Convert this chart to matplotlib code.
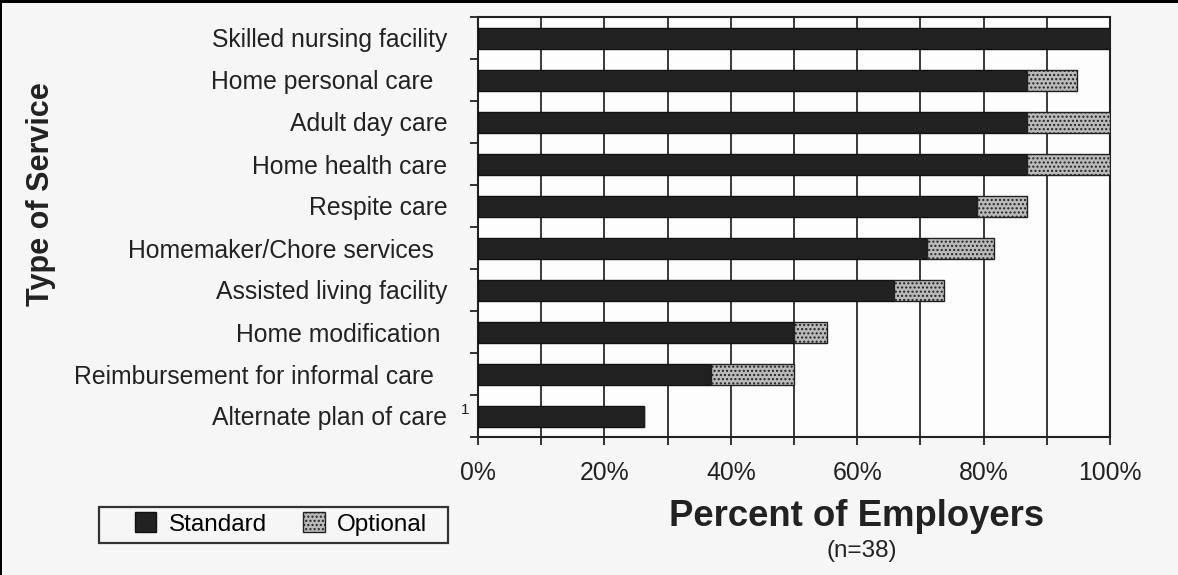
import matplotlib
matplotlib.use("Agg")
import matplotlib.pyplot as plt
from matplotlib.patches import Rectangle, Patch
from matplotlib.ticker import MultipleLocator, FuncFormatter, FixedLocator
import numpy as np

plt.rcParams['font.family'] = ['Liberation Sans', 'DejaVu Sans']
plt.rcParams['hatch.color'] = '#9a9a9a'

services = [
    "Skilled nursing facility",
    "Home personal care  ",
    "Adult day care",
    "Home health care",
    "Respite care",
    "Homemaker/Chore services  ",
    "Assisted living facility",
    "Home modification ",
    "Reimbursement for informal care  ",
    "Alternate plan of care",
]
standard = [100.0, 86.8, 86.8, 86.8, 78.9, 71.1, 65.8, 50.0, 36.8, 26.3]
optional = [0.0, 7.9, 13.2, 13.2, 7.9, 10.5, 7.9, 5.3, 13.2, 0.0]
xticks = [0, 20, 40, 60, 80, 100]

W, H = 1178, 575
fig = plt.figure(figsize=(W / 100, H / 100), dpi=100, facecolor='#f6f6f6')
ax = fig.add_axes([478 / W, 1 - 437 / H, (1110 - 478) / W, (437 - 17) / H])
ax.set_facecolor('#fdfdfd')

y = np.arange(len(services))
dark = '#222222'
gray = '#bababa'
ax.barh(y, standard, height=0.5, color=dark, edgecolor='#111111', linewidth=1, zorder=3)
ax.barh(y, optional, left=standard, height=0.5, color=gray, edgecolor='#222222',
        linewidth=1, zorder=3, hatch='....')

ax.set_xlim(0, 100)
ax.set_ylim(len(services) - 0.5, -0.5)

# grid every 10%
ax.xaxis.set_major_locator(FixedLocator(xticks))
ax.xaxis.set_minor_locator(MultipleLocator(10))
ax.xaxis.set_major_formatter(FuncFormatter(lambda v, p: f"{int(v)}%"))
ax.grid(True, which='both', axis='x', color='#2a2a2a', linewidth=1.3, zorder=1)
ax.tick_params(axis='x', which='both', direction='out', length=6, width=1.3,
               color='#222222', labelsize=17.8, pad=11, labelcolor='#222222')

ax.set_yticks(y)
ax.set_yticklabels(services)
ax.yaxis.set_minor_locator(FixedLocator(np.arange(-0.5, len(services), 1.0)))
ax.tick_params(axis='y', which='major', length=0, pad=22, labelsize=17.8, labelcolor='#222222')
ax.tick_params(axis='y', which='minor', direction='out', length=6, width=1.3, color='#222222')

for s in ax.spines.values():
    s.set_color('#222222')
    s.set_linewidth(1.5)

# footnote marker
ax.text(-0.02, 9 - 0.15, "1", transform=ax.get_yaxis_transform(), ha='center', va='center',
        fontsize=11, color='#222222')

fig.text(41 / W, 1 - 194 / H, "Type of Service", rotation=90, ha='center', va='center',
         fontsize=22, fontweight='bold', color='#222222')
fig.text(857 / W, 1 - 517 / H, "Percent of Employers", ha='center', va='center',
         fontsize=26.3, fontweight='bold', color='#222222')
fig.text(862 / W, 1 - 551 / H, "(n=38)", ha='center', va='center', fontsize=17.5, color='#222222')

# legend
handles = [Patch(facecolor=dark, edgecolor='#111111', label='Standard'),
           Patch(facecolor=gray, edgecolor='#222222', hatch='....', label='Optional')]
fig.legend(handles=handles, loc='center', bbox_to_anchor=(281 / W, 1 - 524 / H), ncol=2,
           frameon=False, fontsize=17.5, handlelength=0.9, handleheight=0.9,
           handletextpad=0.5, columnspacing=1.5)
fig.patches.append(Rectangle((99 / W, 1 - 543 / H), (448 - 99) / W, 36 / H,
                             transform=fig.transFigure, fill=False, edgecolor='#333333',
                             linewidth=1.6))

# page border lines
fig.patches.append(Rectangle((0, 1 - 3 / H), 1, 3 / H, transform=fig.transFigure,
                             facecolor='black', edgecolor='none'))
fig.patches.append(Rectangle((0, 0), 2 / W, 1, transform=fig.transFigure,
                             facecolor='black', edgecolor='none'))

fig.savefig("out.png", dpi=100, facecolor=fig.get_facecolor())
